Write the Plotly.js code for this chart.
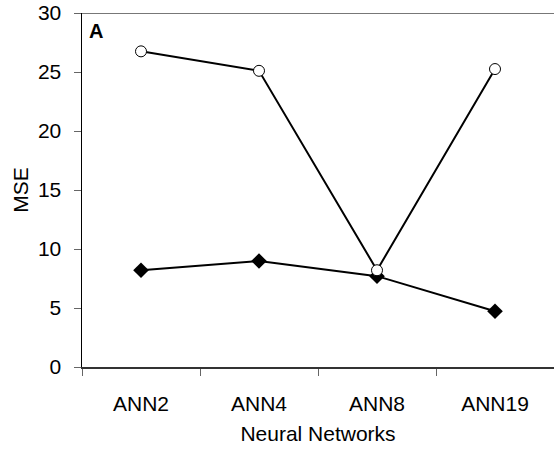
<!DOCTYPE html>
<html>
<head>
<meta charset="utf-8">
<script src="https://cdn.plot.ly/plotly-3.0.1.min.js"></script>
<style>html,body{margin:0;padding:0;background:#fff;}#chart{width:554px;height:453px;}</style>
</head>
<body>
<div id="chart"></div>
<script>
const categories = ["ANN2", "ANN4", "ANN8", "ANN19"];
const seriesCircle = [26.75, 25.1, 8.2, 25.25];
const seriesDiamond = [8.2, 8.98, 7.7, 4.72];
const yTicks = [0, 5, 10, 15, 20, 25, 30];

const font = {family: "Liberation Sans, Arial, sans-serif", size: 21, color: "#000"};

const traces = [
  {
    x: categories, y: seriesDiamond, type: "scatter", mode: "lines+markers",
    line: {color: "#000", width: 2},
    marker: {symbol: "diamond", size: 12, color: "#000"},
    cliponaxis: false
  },
  {
    x: categories, y: seriesCircle, type: "scatter", mode: "lines+markers",
    line: {color: "#000", width: 2},
    marker: {symbol: "circle", size: 11, color: "#fff", line: {color: "#000", width: 1}},
    cliponaxis: false
  }
];

const layout = {
  width: 554, height: 453,
  margin: {l: 82, r: 0, t: 13, b: 86},
  paper_bgcolor: "#fff", plot_bgcolor: "#fff",
  showlegend: false,
  font: font,
  xaxis: {
    type: "category", range: [-0.5, 3.5],
    showgrid: false, zeroline: false,
    showline: true, linecolor: "#333", linewidth: 2,
    ticks: "outside", tickson: "boundaries", ticklen: 7, tickcolor: "#666", tickwidth: 1,
    ticklabelstandoff: 17,
    tickfont: font,
    title: {text: "Neural Networks", font: font, standoff: 12}
  },
  yaxis: {
    range: [0, 30], tickvals: yTicks,
    showgrid: false, zeroline: false,
    showline: true, linecolor: "#000", linewidth: 1.5,
    ticks: "outside", ticklen: 7, tickcolor: "#666", tickwidth: 1,
    ticklabelstandoff: 8,
    tickfont: font,
    title: {text: "MSE", font: font, standoff: 3}
  },
  shapes: [
    {type: "line", xref: "paper", yref: "y", x0: 0, x1: 1, y0: 30, y1: 30,
     line: {color: "#777", width: 2}}
  ],
  annotations: [
    {text: "<b>A</b>", xref: "paper", yref: "paper", x: 0.011, y: 0.985,
     xanchor: "left", yanchor: "top", showarrow: false,
     font: {family: "Liberation Sans, Arial, sans-serif", size: 20, color: "#000"}}
  ]
};

Plotly.newPlot("chart", traces, layout, {displayModeBar: false, staticPlot: true});
</script>
</body>
</html>
